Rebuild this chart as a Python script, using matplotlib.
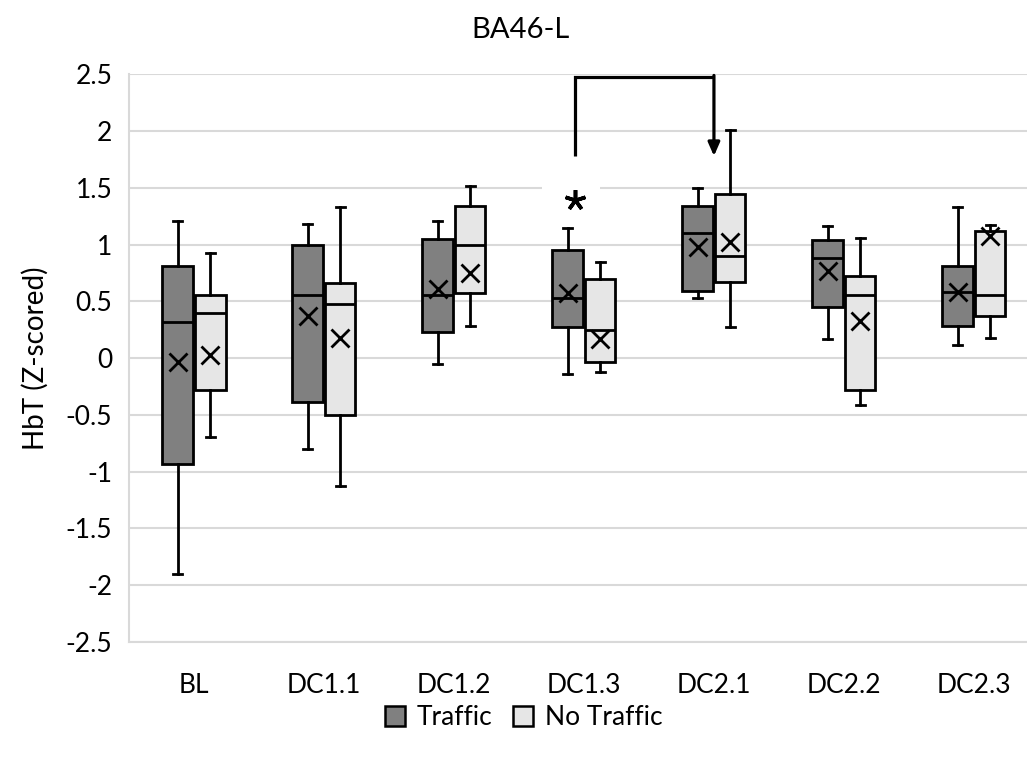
import matplotlib.pyplot as plt
from matplotlib.patches import Patch, Rectangle

categories = ['BL', 'DC1.1', 'DC1.2', 'DC1.3', 'DC2.1', 'DC2.2', 'DC2.3']

# Traffic: whisker low, q1, median, q3, whisker high, mean
traffic_low = [-1.90, -0.80, -0.05, -0.14, 0.53, 0.17, 0.12]
traffic_q1 = [-0.93, -0.39, 0.23, 0.27, 0.59, 0.45, 0.28]
traffic_med = [0.32, 0.56, 0.56, 0.53, 1.10, 0.88, 0.58]
traffic_q3 = [0.81, 1.00, 1.05, 0.95, 1.34, 1.04, 0.81]
traffic_high = [1.21, 1.18, 1.21, 1.15, 1.50, 1.16, 1.33]
traffic_mean = [-0.03, 0.37, 0.61, 0.57, 0.98, 0.77, 0.58]

# No Traffic
notraffic_low = [-0.69, -1.13, 0.28, -0.12, 0.27, -0.41, 0.18]
notraffic_q1 = [-0.28, -0.50, 0.57, -0.03, 0.67, -0.28, 0.37]
notraffic_med = [0.40, 0.48, 1.00, 0.25, 0.90, 0.56, 0.56]
notraffic_q3 = [0.56, 0.66, 1.34, 0.70, 1.45, 0.72, 1.12]
notraffic_high = [0.93, 1.33, 1.52, 0.85, 2.01, 1.06, 1.17]
notraffic_mean = [0.03, 0.18, 0.75, 0.17, 1.02, 0.33, 1.08]

plt.rcParams['font.family'] = ['Lato', 'DejaVu Sans']
FS = 19


def make_stats(low, q1, med, q3, high, mean):
    return [dict(whislo=a, q1=b, med=c, q3=d, whishi=e, mean=f, fliers=[])
            for a, b, c, d, e, f in zip(low, q1, med, q3, high, mean)]


fig = plt.figure(figsize=(10.27, 7.58), dpi=100)
ax = fig.add_axes([0.1256, 0.153, 0.886, 0.749])

groups = [
    (make_stats(traffic_low, traffic_q1, traffic_med, traffic_q3, traffic_high, traffic_mean), -0.125, '#808080'),
    (make_stats(notraffic_low, notraffic_q1, notraffic_med, notraffic_q3, notraffic_high, notraffic_mean), 0.125, '#e6e6e6'),
]
for stats, offset, color in groups:
    ax.bxp(stats, positions=[i + offset for i in range(len(categories))],
           widths=0.235, patch_artist=True, showmeans=True, capwidths=0.07,
           boxprops=dict(facecolor=color, edgecolor='black', linewidth=2),
           medianprops=dict(color='black', linewidth=2),
           whiskerprops=dict(color='black', linewidth=2),
           capprops=dict(color='black', linewidth=2),
           meanprops=dict(marker='x', markeredgecolor='black', markersize=13, markeredgewidth=2),
           zorder=3)

ax.set_xlim(-0.5, 6.5)
ax.set_ylim(-2.5, 2.5)
ax.set_yticks([-2.5, -2, -1.5, -1, -0.5, 0, 0.5, 1, 1.5, 2, 2.5])
ax.set_yticklabels(['-2.5', '-2', '-1.5', '-1', '-0.5', '0', '0.5', '1', '1.5', '2', '2.5'])
ax.set_xticks(range(len(categories)))
ax.set_xticklabels(categories)
ax.tick_params(axis='both', length=0, labelsize=FS)
ax.tick_params(axis='x', pad=22)
ax.tick_params(axis='y', pad=12)
ax.grid(axis='y', color='#d9d9d9', linewidth=1.5, zorder=0)
ax.set_axisbelow(True)
for side in ['top', 'right']:
    ax.spines[side].set_visible(False)
for side in ['left', 'bottom']:
    ax.spines[side].set_color('#d9d9d9')
    ax.spines[side].set_linewidth(1.5)

ax.set_ylabel('HbT (Z-scored)', fontsize=FS + 1, labelpad=12)
fig.text(0.507, 0.96, 'BA46-L', ha='center', va='center', fontsize=FS + 2)

# significance bracket
ax.plot([2.93, 2.93, 4.0], [1.78, 2.48, 2.48], color='black', linewidth=2.3, zorder=4,
        solid_capstyle='butt', solid_joinstyle='miter')
ax.annotate('', xy=(4.0, 1.78), xytext=(4.0, 2.49),
            arrowprops=dict(arrowstyle='-|>,head_length=0.8,head_width=0.35',
                            color='black', linewidth=2.3, shrinkA=0, shrinkB=0), zorder=4)
ax.add_patch(Rectangle((2.68, 1.33), 0.44, 0.3, facecolor='white', edgecolor='none', zorder=2))
ax.plot([2.93], [1.39], marker=(5, 2, 0), markersize=15, markeredgewidth=2.6,
        color='black', linestyle='none', zorder=4)

handles = [Patch(facecolor='#808080', edgecolor='black', linewidth=1.8, label='Traffic'),
           Patch(facecolor='#e6e6e6', edgecolor='black', linewidth=1.8, label='No Traffic')]
fig.legend(handles=handles, loc='center', bbox_to_anchor=(0.51, 0.053), ncol=2, frameon=False,
           fontsize=FS, handlelength=0.75, handleheight=0.75, handletextpad=0.45, columnspacing=0.8)

fig.savefig('out.png', dpi=100)
